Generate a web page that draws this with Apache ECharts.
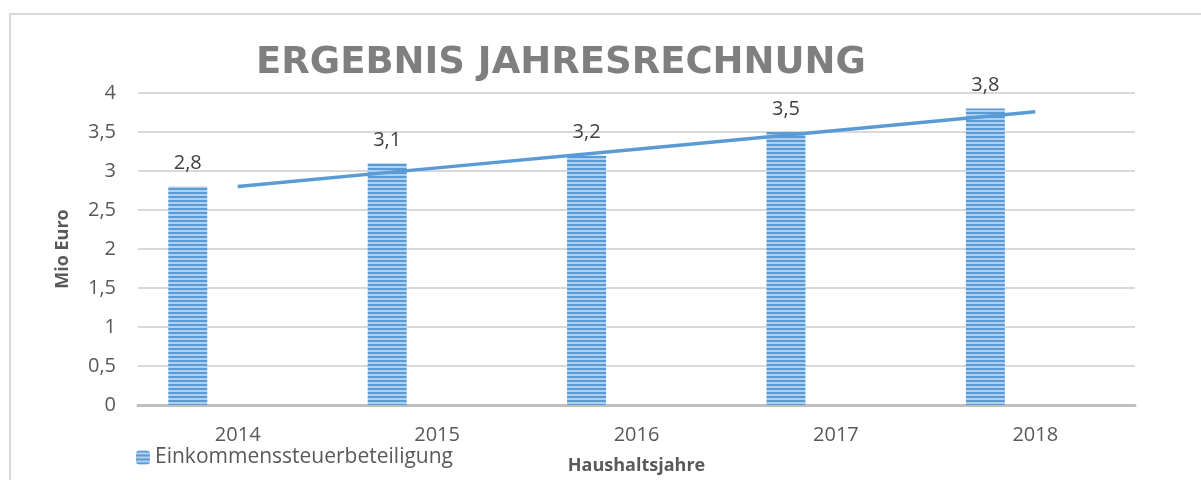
<!DOCTYPE html>
<html>
<head>
<meta charset="utf-8">
<script src="https://cdn.jsdelivr.net/npm/echarts@6/dist/echarts.min.js"></script>
<style>
  html, body { margin: 0; padding: 0; background: #fff; }
  #container { width: 1201px; height: 480px; }
</style>
</head>
<body>
<div id="container"></div>
<script>
// Ergebnis Jahresrechnung – Einkommensteuerbeteiligung
var years = ['2014', '2015', '2016', '2017', '2018'];
var werte = [2.8, 3.1, 3.2, 3.5, 3.8];
var trend = [2.8, 3.04, 3.28, 3.52, 3.76];
var yTicks = ['0', '0,5', '1', '1,5', '2', '2,5', '3', '3,5', '4'];

var dom = document.getElementById('container');
var myChart = echarts.init(dom);

// gestreiftes Muster wie im Original
var pat = document.createElement('canvas');
pat.width = 4;
pat.height = 4;
var ctx = pat.getContext('2d');
ctx.fillStyle = '#5b9bd5';
ctx.fillRect(0, 0, 4, 2);
ctx.fillStyle = '#b3cfee';
ctx.fillRect(0, 2, 4, 2);

var txt = '#595959';
var font = 'Open Sans';

var option = {
    animation: false,
    textStyle: { fontFamily: font },
    title: {
        text: 'ERGEBNIS JAHRESRECHNUNG',
        left: 256,
        top: 45,
        padding: 0,
        textStyle: { fontSize: 37, fontWeight: 'bold', color: '#7f7f7f', fontFamily: 'DejaVu Sans' }
    },
    graphic: [{
        type: 'rect',
        shape: { x: 10, y: 14, width: 1200, height: 480 },
        style: { fill: 'none', stroke: '#d9d9d9', lineWidth: 2 },
        silent: true
    }],
    legend: {
        data: ['Einkommenssteuerbeteiligung'],
        left: 136,
        top: 447,
        padding: 0,
        itemWidth: 14,
        itemHeight: 14,
        itemGap: 6,
        textStyle: { fontSize: 21, color: txt, fontFamily: font }
    },
    grid: { left: 138, right: 66, top: 93, bottom: 75, outerBoundsMode: 'none' },
    xAxis: {
        type: 'category',
        data: years,
        name: 'Haushaltsjahre',
        nameLocation: 'middle',
        nameGap: 52,
        nameTextStyle: { fontSize: 18, fontWeight: 'bold', color: txt, fontFamily: font },
        axisLine: { lineStyle: { color: '#bfbfbf', width: 3 } },
        axisTick: { show: false },
        axisLabel: { fontSize: 20, color: txt, margin: 20 }
    },
    yAxis: {
        type: 'value',
        min: 0,
        max: 4,
        interval: 0.5,
        name: 'Mio Euro',
        nameLocation: 'middle',
        nameGap: 66,
        nameTextStyle: { fontSize: 18, fontWeight: 'bold', color: txt, fontFamily: font },
        axisLine: { show: false },
        axisTick: { show: false },
        axisLabel: {
            fontSize: 20, color: txt, margin: 22,
            formatter: function (v) { return yTicks[Math.round(v * 2)]; }
        },
        splitLine: { lineStyle: { color: '#d9d9d9', width: 2 } }
    },
    series: [{
        name: 'Einkommenssteuerbeteiligung',
        type: 'bar',
        data: werte,
        barWidth: 39,
        barGap: '156%',
        itemStyle: { color: { image: pat, repeat: 'repeat' } },
        label: {
            show: true,
            position: 'top',
            distance: 13,
            fontSize: 20,
            color: '#404040',
            formatter: function (p) { return String(p.value).replace('.', ','); }
        }
    }, {
        name: 'leer',
        type: 'bar',
        data: years.map(function () { return '-'; }),
        barWidth: 39
    }, {
        name: 'Trend',
        type: 'line',
        data: trend,
        symbol: 'none',
        lineStyle: { color: '#5b9bd5', width: 3.5 },
        z: 5
    }]
};

if (option && typeof option === 'object') {
    myChart.setOption(option);
}
</script>
</body>
</html>
